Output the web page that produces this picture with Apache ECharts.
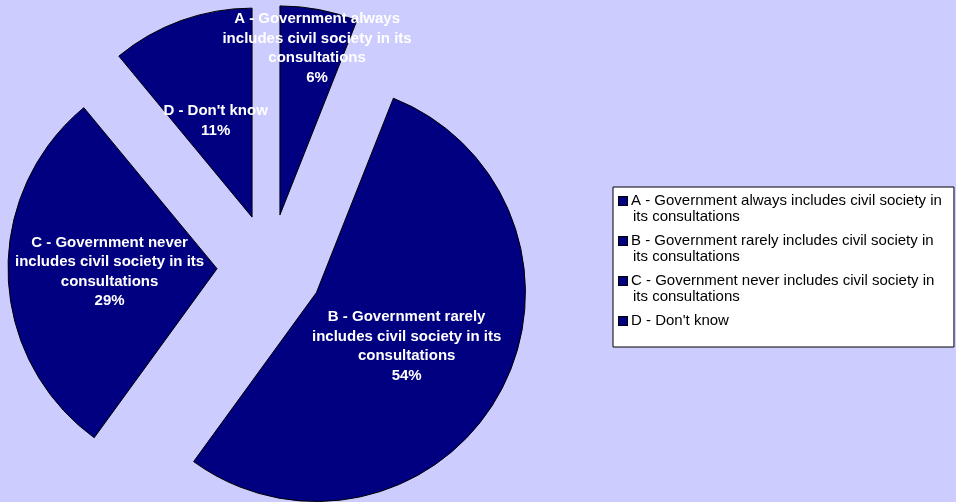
<!DOCTYPE html>
<html>
<head>
<meta charset="utf-8">
<style>
  html, body { margin: 0; padding: 0; background: #CCCCFF; }
  #chart { width: 956px; height: 502px; }
</style>
<script src="https://cdn.jsdelivr.net/npm/echarts@6/dist/echarts.min.js"></script>
</head>
<body>
<div id="chart"></div>
<script>
// Survey answers: does government include civil society in its consultations?
const categories = [
  'A - Government always includes civil society in its consultations',
  'B - Government rarely includes civil society in its consultations',
  'C - Government never includes civil society in its consultations',
  "D - Don't know"
];
// Share of respondents, in percent
const shares = [6, 54, 29, 11];
// Wrapped text used for the slice labels
const sliceLabelLines = [
  ['A - Government always', 'includes civil society in its', 'consultations'],
  ['B - Government rarely', 'includes civil society in its', 'consultations'],
  ['C - Government never', 'includes civil society in its', 'consultations'],
  ["D - Don't know"]
];
// Wrapped text used for the legend entries
const legendLines = [
  ['A - Government always includes civil society in', 'its consultations'],
  ['B - Government rarely includes civil society in', 'its consultations'],
  ['C - Government never includes civil society in', 'its consultations'],
  ["D - Don't know"]
];

const FONT = 'Arial, "Liberation Sans", sans-serif';
const NAVY = '#000080';

const chart = echarts.init(document.getElementById('chart'), null, { renderer: 'canvas' });

const pieData = categories.map((name, i) => ({ name: name, value: shares[i], selected: true }));

// small nudges of the inside labels (the narrow first slice's label sits out near the rim)
const labelNudges = [
  { dx: 17, dy: -61 },
  { dx: -4, dy: 2 },
  { dx: 0, dy: 0 },
  { dx: 0, dy: 5 }
];

chart.setOption({
  backgroundColor: '#CCCCFF',
  animation: false,
  legend: {
    orient: 'vertical',
    left: 613,
    top: 187,
    backgroundColor: '#FFFFFF',
    borderColor: '#000000',
    borderWidth: 1,
    borderRadius: 0,
    padding: [6, 12, 18, 0],
    itemGap: 8,
    itemWidth: 0,
    itemHeight: 0,
    itemStyle: { opacity: 0 },
    selectedMode: false,
    data: categories,
    formatter: function (name) {
      const lines = legendLines[categories.indexOf(name)];
      return lines.map((ln, k) =>
        (k === 0 ? '{m|}{s|}' : '{i|}') + '{t|' + ln + '}'
      ).join('\n');
    },
    textStyle: {
      fontFamily: FONT,
      fontSize: 15,
      color: '#000',
      lineHeight: 16,
      rich: {
        m: { width: 8, height: 8, backgroundColor: NAVY, borderColor: '#000', borderWidth: 1, lineHeight: 16 },
        s: { width: 4, lineHeight: 16 },
        i: { width: 14, lineHeight: 16 },
        t: { fontFamily: FONT, fontSize: 15, color: '#000', lineHeight: 16 }
      }
    }
  },
  series: [{
    type: 'pie',
    center: [270, 267],
    radius: 209,
    startAngle: 90,
    clockwise: true,
    selectedMode: 'multiple',
    selectedOffset: 53,
    avoidLabelOverlap: false,
    silent: true,
    itemStyle: { color: NAVY, borderColor: '#000000', borderWidth: 1 },
    select: { itemStyle: { color: NAVY, borderColor: '#000000', borderWidth: 1 } },
    emphasis: { disabled: true, scale: false },
    label: {
      show: true,
      position: 'inside',
      color: '#FFFFFF',
      fontFamily: FONT,
      fontWeight: 'bold',
      fontSize: 15,
      lineHeight: 19.5,
      align: 'center',
      formatter: function (p) {
        return sliceLabelLines[p.dataIndex].concat(p.value + '%').join('\n');
      }
    },
    labelLayout: function (params) {
      return labelNudges[params.dataIndex] || {};
    },
    labelLine: { show: false },
    data: pieData
  }]
});
</script>
</body>
</html>
